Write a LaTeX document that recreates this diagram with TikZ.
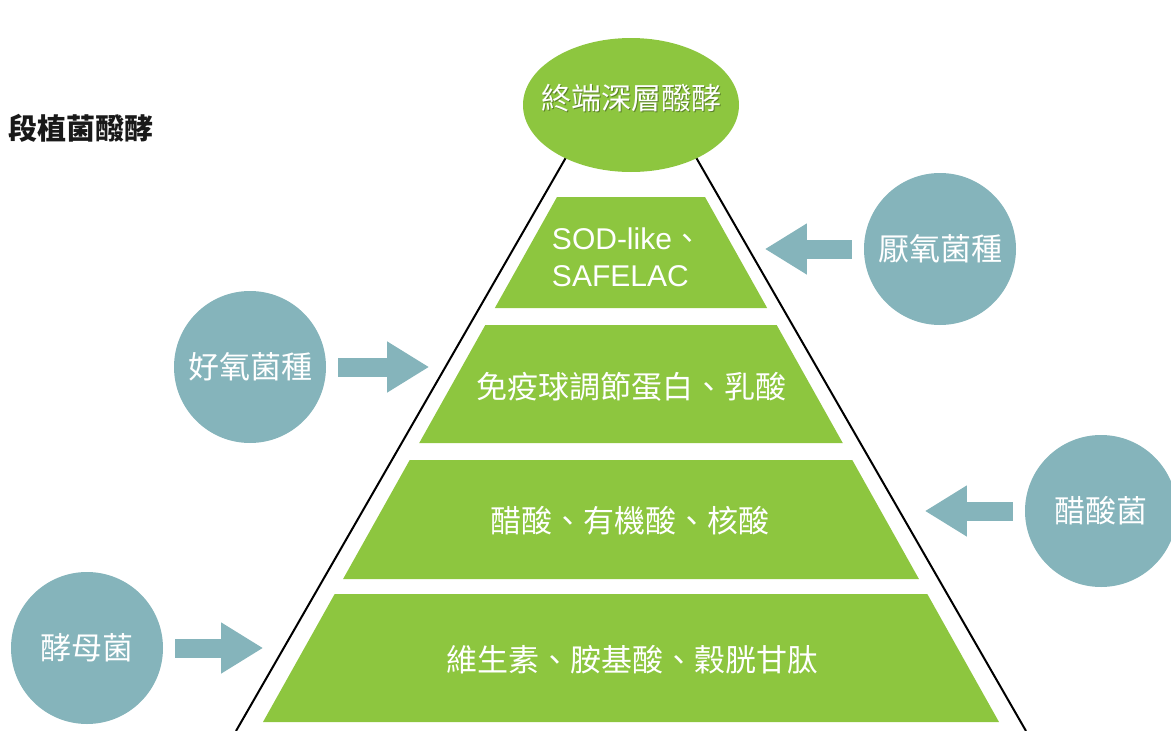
\documentclass[tikz,border=0pt]{standalone}
\usepackage{fontspec}
\setmainfont{Liberation Sans}
\newfontfamily\cjk{Noto Sans CJK TC}
\usetikzlibrary{arrows.meta, shapes.geometric, positioning}

\definecolor{leaf}{RGB}{141,198,63}
\definecolor{germ}{RGB}{133,180,187}

\begin{document}
\begin{tikzpicture}[x=1pt, y=-1pt,
        tier/.style={fill=leaf},
        tiertext/.style={text=white, font=\cjk\fontsize{31}{36}\selectfont},
        microbe/.style={circle, fill=germ, text=white, minimum size=152pt, inner sep=0pt, font=\cjk\fontsize{31}{36}\selectfont},
        flow/.style={germ, line width=19pt, -{Triangle[length=42pt,width=48pt]}, shorten <=12pt},
        side/.style={line width=2pt}]
        \useasboundingbox (0,0) rectangle (1171,731);

        % the two sides of the pyramid, under the cap
        \coordinate (apex l) at (576,140);
        \coordinate (apex r) at (686,140);
        \coordinate (foot l) at (236,731);
        \coordinate (foot r) at (1026,731);
        \draw[side] (apex l) -- (foot l);
        \draw[side] (apex r) -- (foot r);

        % layers, top to bottom
        \foreach \ya/\yb in {197/308, 325/443, 460/579, 594/722}
            \fill[tier] ({631-74-0.56*(\ya-197)},\ya) -- ({631+74+0.56*(\ya-197)},\ya)
                -- ({631+74+0.56*(\yb-197)},\yb) -- ({631-74-0.56*(\yb-197)},\yb) -- cycle;

        \node[tiertext, font=\fontsize{30}{37}\selectfont, align=left] (t1) at (627,257) {SOD-like{\cjk 、}\\SAFELAC};
        \node[tiertext] (t2) at (631,387) {免疫球調節蛋白、乳酸};
        \node[tiertext] (t3) at (630,521) {醋酸、有機酸、核酸};
        \node[tiertext] (t4) at (632,660) {維生素、胺基酸、穀胱甘肽};

        % cap
        \node[ellipse, fill=leaf, minimum width=216pt, minimum height=134pt] (cap) at (631,105) {};
        \node[font=\cjk\fontsize{30}{36}\selectfont, text=black, opacity=.35] (cap shadow) at (632.5,99.5) {終端深層醱酵};
        \node[font=\cjk\fontsize{30}{36}\selectfont, text=white] (cap text) at (631,98) {終端深層醱酵};

        \node[font=\cjk\bfseries\fontsize{29}{34}\selectfont, anchor=west, inner sep=0pt, text=black!90] (title) at (8,128) {段植菌醱酵};

        % strains and where they feed in
        \node[microbe] (aerobe) at (250,367) {好氧菌種};
        \node[microbe] (anaerobe) at (940,249) {厭氧菌種};
        \node[microbe] (acetic) at (1101,511) {醋酸菌};
        \node[microbe] (yeast) at (87,648) {酵母菌};
        \coordinate[right=103pt of aerobe] (aerobe tip);
        \coordinate[left=99pt of anaerobe] (anaerobe tip);
        \coordinate[left=100pt of acetic] (acetic tip);
        \coordinate[right=100pt of yeast] (yeast tip);
        \path[flow]
        (aerobe) edge (aerobe tip)
        (anaerobe) edge (anaerobe tip)
        (acetic) edge (acetic tip)
        (yeast) edge (yeast tip)
        ;
    \end{tikzpicture}
\end{document}
